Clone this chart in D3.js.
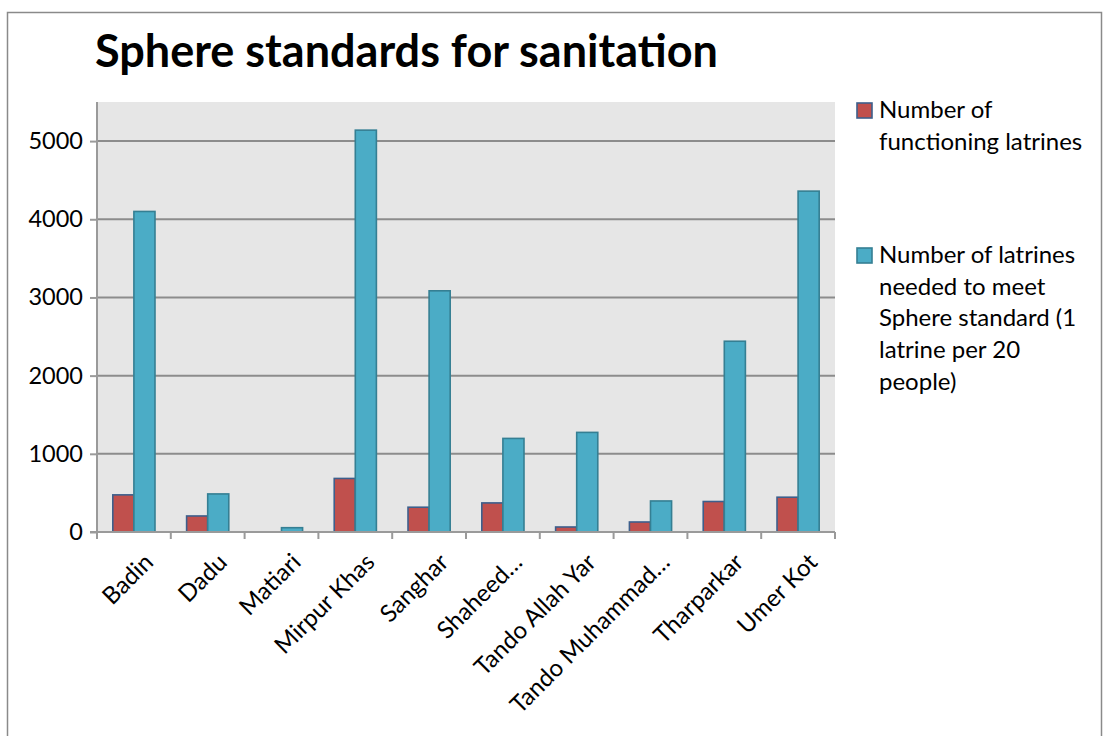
<!DOCTYPE html>
<html>
<head>
<meta charset="utf-8">
<script src="https://cdn.jsdelivr.net/npm/d3@7"></script>
<style>
  html, body { margin: 0; padding: 0; background: #fff; }
  svg { display: block; }
  text { font-family: Lato, "Liberation Sans", sans-serif; fill: #000; }
</style>
</head>
<body>
<svg id="chart" width="1109" height="736"></svg>
<script>
// Districts (labels as displayed on the category axis)
const districts = ["Badin", "Dadu", "Matiari", "Mirpur Khas", "Sanghar", "Shaheed…",
  "Tando Allah Yar", "Tando Muhammad…", "Tharparkar", "Umer Kot"];
// Number of functioning latrines
const functioning = [475, 205, 0, 685, 317, 372, 64, 128, 390, 445];
// Number of latrines needed to meet the Sphere standard (1 latrine per 20 people)
const needed = [4100, 487, 55, 5140, 3085, 1197, 1274, 397, 2440, 4360];
const yTicks = [0, 1000, 2000, 3000, 4000, 5000];
const seriesNames = [
  ["Number of", "functioning latrines"],
  ["Number of latrines", "needed to meet", "Sphere standard (1", "latrine per 20", "people)"]
];
const colors = ["#c0504d", "#4bacc6"];
const strokes = ["#3d5f8c", "#357f93"];

const svg = d3.select("#chart");

// Chart frame
svg.append("rect")
  .attr("x", 7.5).attr("y", 12.5)
  .attr("width", 1094).attr("height", 740)
  .attr("fill", "#fff").attr("stroke", "#8a8a8a").attr("stroke-width", 1.5);

// Title
svg.append("text")
  .attr("x", 95).attr("y", 67)
  .attr("font-size", 45).attr("font-weight", 700)
  .text("Sphere standards for sanitation");

const plot = { left: 97, right: 835, top: 102, bottom: 532 };

const x = d3.scaleBand().domain(districts).range([plot.left, plot.right]).padding(0);
const y = d3.scaleLinear().domain([0, 5500]).range([plot.bottom, plot.top]);

// Plot background
svg.append("rect")
  .attr("x", plot.left).attr("y", plot.top)
  .attr("width", plot.right - plot.left).attr("height", plot.bottom - plot.top)
  .attr("fill", "#e6e6e6");

// Horizontal gridlines
svg.append("g")
  .selectAll("line")
  .data(yTicks.filter(d => d > 0))
  .join("line")
  .attr("x1", plot.left).attr("x2", plot.right)
  .attr("y1", d => y(d)).attr("y2", d => y(d))
  .attr("stroke", "#8c8c8c").attr("stroke-width", 2);

// Value axis
const yAxis = svg.append("g")
  .attr("transform", `translate(${plot.left},0)`)
  .call(d3.axisLeft(y).tickValues(yTicks).tickSize(7).tickPadding(7).tickFormat(d3.format("d")));
yAxis.select(".domain").attr("stroke", "#9a9a9a").attr("stroke-width", 2)
  .attr("d", `M0,${plot.top}V${plot.bottom}`);
yAxis.selectAll(".tick line").attr("stroke", "#9a9a9a").attr("stroke-width", 2);
yAxis.selectAll(".tick text")
  .attr("font-size", 23.5).attr("font-family", "Lato, sans-serif").attr("fill", "#000");

// Bars
const bw = x.bandwidth() / 3.5;
const seriesData = [functioning, needed];
seriesData.forEach((vals, s) => {
  svg.append("g")
    .selectAll("rect")
    .data(districts.map((d, i) => ({ d, v: vals[i] })).filter(o => o.v > 0))
    .join("rect")
    .attr("x", o => x(o.d) + bw * (0.75 + s))
    .attr("y", o => y(o.v))
    .attr("width", bw)
    .attr("height", o => y(0) - y(o.v))
    .attr("fill", colors[s])
    .attr("stroke", strokes[s])
    .attr("stroke-width", 1.6);
});

// Category axis
const xAxis = svg.append("g")
  .attr("transform", `translate(0,${plot.bottom})`);
xAxis.append("line")
  .attr("x1", plot.left - 7).attr("x2", plot.right)
  .attr("y1", 0).attr("y2", 0)
  .attr("stroke", "#9a9a9a").attr("stroke-width", 2);
const boundaries = districts.map(d => x(d)).concat([plot.right]);
xAxis.selectAll("line.tk")
  .data(boundaries)
  .join("line")
  .attr("class", "tk")
  .attr("x1", d => d).attr("x2", d => d)
  .attr("y1", 0).attr("y2", 7)
  .attr("stroke", "#9a9a9a").attr("stroke-width", 2);
xAxis.selectAll("text")
  .data(districts)
  .join("text")
  .attr("transform", d => `translate(${x(d) + x.bandwidth() / 2 + 8},${19}) rotate(-45)`)
  .attr("text-anchor", "end")
  .attr("dy", "0.75em")
  .attr("font-size", 24)
  .text(d => d);

// Legend
const legendY = [103, 248];
const lineH = 31.7;
seriesNames.forEach((lines, s) => {
  const g = svg.append("g");
  g.append("rect")
    .attr("x", 857).attr("y", legendY[s])
    .attr("width", 15).attr("height", 15)
    .attr("fill", colors[s]).attr("stroke", strokes[s]).attr("stroke-width", 1.6);
  g.append("text")
    .attr("font-size", 24)
    .selectAll("tspan")
    .data(lines)
    .join("tspan")
    .attr("x", 879)
    .attr("y", (d, i) => legendY[s] + 15 + i * lineH)
    .text(d => d);
});
</script>
</body>
</html>
